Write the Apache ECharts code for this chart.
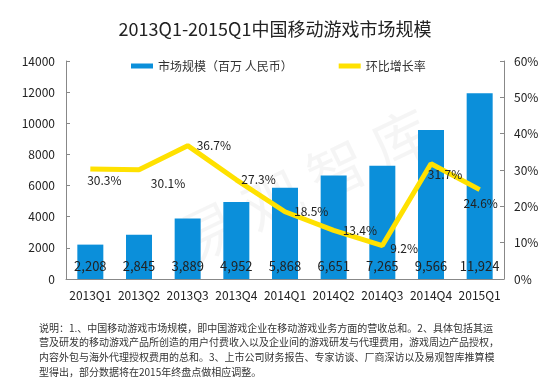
<!DOCTYPE html>
<html><head><meta charset="utf-8">
<script src="https://cdn.jsdelivr.net/npm/echarts@6/dist/echarts.min.js"></script>
<style>html,body{margin:0;padding:0;background:#fff}#c{width:550px;height:392px}</style>
</head><body><div id="c"></div>
<script>
const categories = ['2013Q1','2013Q2','2013Q3','2013Q4','2014Q1','2014Q2','2014Q3','2014Q4','2015Q1'];
const marketSize = [2208, 2845, 3889, 4952, 5868, 6651, 7265, 9566, 11924];
const growthRate = [30.3, 30.1, 36.7, 27.3, 18.5, 13.4, 9.2, 31.7, 24.6];
const leftTicks = [0, 2000, 14000];
const noteLines = [
  '说明：1.、中国移动游戏市场规模，即中国游戏企业在移动游戏业务方面的营收总和。2、具体包括其运',
  '营及研发的移动游戏产品所创造的用户付费收入以及企业间的游戏研发与代理费用，游戏周边产品授权，',
  '内容外包与海外代理授权费用的总和。3、上市公司财务报告、专家访谈、厂商深访以及易观智库推算模',
  '型得出，部分数据将在2015年终盘点做相应调整。'
];
// label placement styles per point (appearance only)
const labelPlacement = [
  { position: 'bottom', distance: 6, offset: [14, 0] },
  { position: 'bottom', distance: 8, offset: [29, 0] },
  { position: 'right', distance: 9 },
  { position: 'right', distance: 5 },
  { position: 'right', distance: 9 },
  { position: 'right', distance: 9 },
  { position: 'right', distance: 8, offset: [0, 3] },
  { position: 'bottom', distance: 5, offset: [14, 0] },
  { position: 'bottom', distance: 8, offset: [1, 0] }
];
const FONT = 'Noto Sans CJK SC';
const chart = echarts.init(document.getElementById('c'));
const graphics = noteLines.map((t, i) => ({
  type: 'text', left: 39, top: 323 + i * 14.6,
  style: { text: t, font: '10px "' + FONT + '"', fill: '#333' }
}));
graphics.push({
  type: 'text', x: 305, y: 185, rotation: 0.45, z: -10, silent: true,
  style: { text: '易 观 智 库', font: '58px "' + FONT + '"', fill: 'rgba(0,0,0,0.04)', align: 'center', verticalAlign: 'middle' }
});
const lineData = growthRate.map((v, i) => ({ value: v, label: labelPlacement[i] }));
chart.setOption({
  textStyle: { fontFamily: FONT },
  title: { text: '2013Q1-2015Q1中国移动游戏市场规模', left: 'center', top: 15,
    textStyle: { fontSize: 18, fontWeight: 'normal', color: '#222', fontFamily: FONT } },
  legend: { left: 126, top: 55, itemWidth: 22, itemHeight: 5, itemGap: 46,
    textStyle: { fontSize: 12, color: '#333' },
    data: [{ name: '市场规模（百万 人民币）', icon: 'rect' },
           { name: '环比增长率', icon: 'rect', itemStyle: { color: '#FFE100', opacity: 1 } }] },
  grid: { left: 66, right: 46, top: 61, bottom: 113 },
  xAxis: { type: 'category', data: categories,
    axisLine: { lineStyle: { color: '#888' } }, axisTick: { show: false },
    axisLabel: { color: '#222', fontSize: 12, margin: 10, interval: 0 } },
  yAxis: [
    { type: 'value', min: leftTicks[0], max: leftTicks[2], interval: leftTicks[1],
      axisLine: { show: true, lineStyle: { color: '#888' } },
      axisTick: { show: true, inside: true, length: 4, lineStyle: { color: '#888' } },
      splitLine: { show: false }, axisLabel: { color: '#222', fontSize: 12, margin: 11, formatter: v => String(v) } },
    { type: 'value', min: 0, max: 60, interval: 10,
      axisLine: { show: true, lineStyle: { color: '#888' } },
      axisTick: { show: true, inside: true, length: 4, lineStyle: { color: '#888' } },
      splitLine: { show: false }, axisLabel: { color: '#222', fontSize: 12, margin: 10, formatter: '{value}%' } }
  ],
  series: [
    { name: '市场规模（百万 人民币）', type: 'bar', data: marketSize, barWidth: 26,
      itemStyle: { color: '#0B8FDA' },
      label: { show: true, position: 'insideBottom', distance: 6, color: '#222', fontSize: 13,
        formatter: p => p.value.toLocaleString('en-US') } },
    { name: '环比增长率', type: 'line', yAxisIndex: 1, data: lineData, z: 3,
      symbol: 'circle', symbolSize: 0, showSymbol: true,
      lineStyle: { color: '#FFE100', width: 5 }, itemStyle: { color: '#FFE100' },
      label: { show: true, color: '#222', fontSize: 12,
        formatter: p => p.value.toFixed(1) + '%' } }
  ],
  graphic: graphics
});
</script></body></html>
